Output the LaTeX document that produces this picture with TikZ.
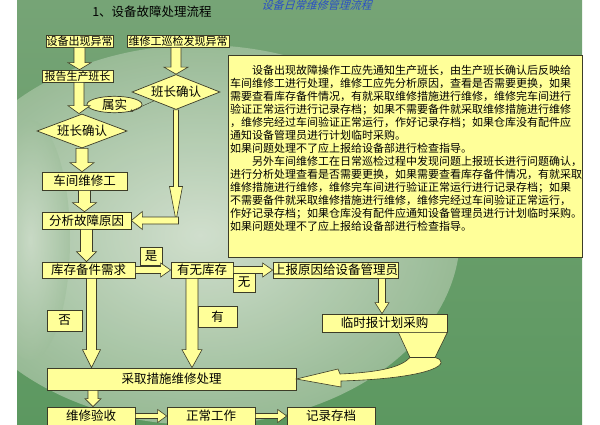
\documentclass[tikz,border=0pt]{standalone}
\usepackage{fontspec}
\newfontfamily\cjk{Noto Sans CJK SC}
\usetikzlibrary{calc,shapes.geometric}
\definecolor{boxc}{HTML}{FFFF99}
\definecolor{edgec}{HTML}{3C3C28}
\definecolor{bgtop}{HTML}{76A476}
\definecolor{bgmid}{HTML}{9EBE9B}
\definecolor{bgbot}{HTML}{5C9860}
\definecolor{pale}{HTML}{DCE6D8}
\definecolor{titleblue}{HTML}{2A4FC4}
\begin{document}
\begin{tikzpicture}[x=1pt,y=-1pt,
    box/.style = {draw=edgec,fill=boxc,line width=0.7pt,inner sep=0pt,
                  font=\cjk\fontsize{12.5}{12.5}\selectfont},
    smallbox/.style = {box,font=\cjk\fontsize{11}{11}\selectfont},
    diam/.style = {box,diamond,aspect=2.5},
    fat/.style n args = {3}{draw=edgec,fill=boxc,line width=0.6pt,line join=miter,
        to path={let \p1=($(\tikztotarget)!#3pt!(\tikztostart)$) in
            ($(\tikztostart)!#1pt!90:(\tikztotarget)$) -- ($(\p1)!#1pt!90:(\tikztotarget)$)
            -- ($(\p1)!#2pt!90:(\tikztotarget)$) -- (\tikztotarget)
            -- ($(\p1)!#2pt!-90:(\tikztotarget)$) -- ($(\p1)!#1pt!-90:(\tikztotarget)$)
            -- ($(\tikztostart)!#1pt!-90:(\tikztotarget)$) -- cycle}},
    shape line/.style = {draw=edgec,fill=boxc,line width=0.6pt,line join=miter}]
    \useasboundingbox (0,0) rectangle (600,424);
    % background
    \fill[white] (0,0) rectangle (600,424);
    \begin{scope}
        \clip (17,0) rectangle (582,424);
        \shade[top color=bgtop,middle color=bgmid,bottom color=bgbot] (17,0) rectangle (582,424);
        \shade[inner color=pale,outer color=bgmid,opacity=0.9]
            (200,235) ellipse [x radius=260pt,y radius=190pt];
        \shade[inner color=pale,outer color=bgmid,opacity=0.6]
            (30,240) ellipse [x radius=40pt,y radius=120pt];
    \end{scope}

    % titles
    \node[font=\cjk\fontsize{12.5}{12.5}\selectfont] (title) at (152,12) {1、设备故障处理流程};
    \node[font=\cjk\fontsize{11}{11}\selectfont,text=titleblue,transform shape,xslant=0.3]
        (maintitle) at (318,5) {设备日常维修管理流程};

    % note box
    \node[draw=edgec,fill=boxc,line width=0.7pt,anchor=north west,inner sep=0pt,
          minimum width=354pt,minimum height=202pt] (note) at (228,55) {};
    \node[anchor=north west,inner sep=0pt,align=left,
          font=\cjk\fontsize{11}{13}\selectfont] (notetext) at (230,64.5) {%
        \hspace*{2em}设备出现故障操作工应先通知生产班长，由生产班长确认后反映给\\
        车间维修工进行处理，维修工应先分析原因，查看是否需要更换，如果\\
        需要查看库存备件情况，有就采取维修措施进行维修，维修完车间进行\\
        验证正常运行进行记录存档；如果不需要备件就采取维修措施进行维修\\
        ，维修完经过车间验证正常运行，作好记录存档；如果仓库没有配件应\\
        通知设备管理员进行计划临时采购。\\
        如果问题处理不了应上报给设备部进行检查指导。\\
        \hspace*{2em}另外车间维修工在日常巡检过程中发现问题上报班长进行问题确认，\\
        进行分析处理查看是否需要更换，如果需要查看库存备件情况，有就采取\\
        维修措施进行维修，维修完车间进行验证正常运行进行记录存档；如果\\
        不需要备件就采取维修措施进行维修，维修完经过车间验证正常运行，\\
        作好记录存档；如果仓库没有配件应通知设备管理员进行计划临时采购。\\
        如果问题处理不了应上报给设备部进行检查指导。};

    % flow nodes
    \node[smallbox,minimum width=67pt,minimum height=12pt] (anomaly) at (79.5,41) {设备出现异常};
    \node[smallbox,minimum width=102pt,minimum height=12pt] (patrol) at (178,41) {维修工巡检发现异常};
    \node[smallbox,minimum width=71pt,minimum height=12pt] (report) at (77.5,76) {报告生产班长};
    \node[diam,minimum width=88pt,minimum height=35pt] (confirmR) at (176,92) {班长确认};
    \node[diam,minimum width=90pt,minimum height=34pt] (confirmL) at (82,131) {班长确认};
    \node[box,ellipse,minimum width=55pt,minimum height=16pt] (verified) at (114.5,104.5) {属实};
    \node[box,minimum width=85pt,minimum height=18pt] (repairer) at (84.5,181) {车间维修工};
    \node[box,minimum width=89pt,minimum height=17pt] (analyse) at (86.5,220.5) {分析故障原因};
    \node[box,minimum width=93pt,minimum height=16pt] (demand) at (88.5,270) {库存备件需求};
    \node[box,minimum width=62pt,minimum height=16pt] (stock) at (202,270) {有无库存};
    \node[box,minimum width=125pt,minimum height=16pt] (escalate) at (335.5,270) {上报原因给设备管理员};
    \node[box,minimum width=125pt,minimum height=18pt] (purchase) at (384.5,323) {临时报计划采购};
    \node[box,minimum width=22pt,minimum height=18pt] (yesLab) at (151,256) {是};
    \node[box,minimum width=22pt,minimum height=19pt] (noneLab) at (244,282.5) {无};
    \node[box,minimum width=35pt,minimum height=21pt] (noLab) at (64.5,320.5) {否};
    \node[box,minimum width=39pt,minimum height=21pt] (haveLab) at (217.5,316.5) {有};
    \node[box,minimum width=249pt,minimum height=22pt] (repair) at (171.5,379) {采取措施维修处理};
    \node[box,minimum width=88pt,minimum height=18pt] (accept) at (91,416) {维修验收};
    \node[box,minimum width=88pt,minimum height=18pt] (normal) at (211,416) {正常工作};
    \node[box,minimum width=88pt,minimum height=18pt] (archive) at (331,416) {记录存档};

    % connectors
    \draw[fat={5.5}{11.5}{7}] (anomaly.south) to (anomaly.south |- report.north);
    \draw[fat={5}{12}{7}] (confirmR.north |- patrol.south) to (confirmR.north);
    \draw[fat={5}{11}{8}] ([xshift=1.5pt]report.south) to ([xshift=1.5pt]report.south |- confirmL.north);
    \draw[-stealth,edgec,thin] (confirmR.south west) -- (verified.-25);
    \draw[fat={6}{12}{9}] (confirmL.south) to (confirmL.south |- repairer.north);
    \draw[fat={6}{12}{9}] (repairer.south) to (repairer.south |- analyse.north);
    \coordinate (bend) at (confirmR.south |- analyse.east);
    \draw[fat={2.5}{6.5}{34}] (confirmR.south) to (bend);
    \draw[fat={3.5}{9}{11}] ([xshift=2.5pt]bend) to (analyse.east);
    \draw[fat={6}{10}{10}] (analyse.south) to (analyse.south |- demand.north);
    \draw[fat={3.5}{7}{10}] (demand.east) to (stock.west);
    \draw[fat={3.5}{7}{10}] (stock.east) to (escalate.west);
    \draw[fat={3.5}{7}{11}] ([xshift=-2.5pt]purchase.north |- escalate.south) to ([xshift=-2.5pt]purchase.north);
    \draw[fat={5}{9}{18}] ([xshift=3pt]demand.south) to ([xshift=3pt]demand.south |- repair.north);
    \draw[fat={6}{10}{18}] ([xshift=-10pt]stock.south) to ([xshift=-10pt]stock.south |- repair.north);
    \draw[fat={5}{8}{8}] ([xshift=2pt]accept.north |- repair.south) to ([xshift=2pt]accept.north);
    \draw[fat={2.5}{6.5}{9}] (accept.east) to (normal.west);
    \draw[fat={2.5}{6.5}{9}] (normal.east) to (archive.west);
    % funnel and curved return arrow
    \draw[shape line] (410,357.5) -- (435,357.5)
        .. controls (452,362) and (438,378) .. (341,381) -- (341,387)
        -- (repair.east) -- (338,369) -- (340,374)
        .. controls (385,372) and (402,366) .. (410,357.5) -- cycle;
    \draw[shape line] ([xshift=-49pt]purchase.south east) -- (purchase.south east)
        -- (435,357.5) -- (410,357.5) -- cycle;
\end{tikzpicture}
\end{document}
